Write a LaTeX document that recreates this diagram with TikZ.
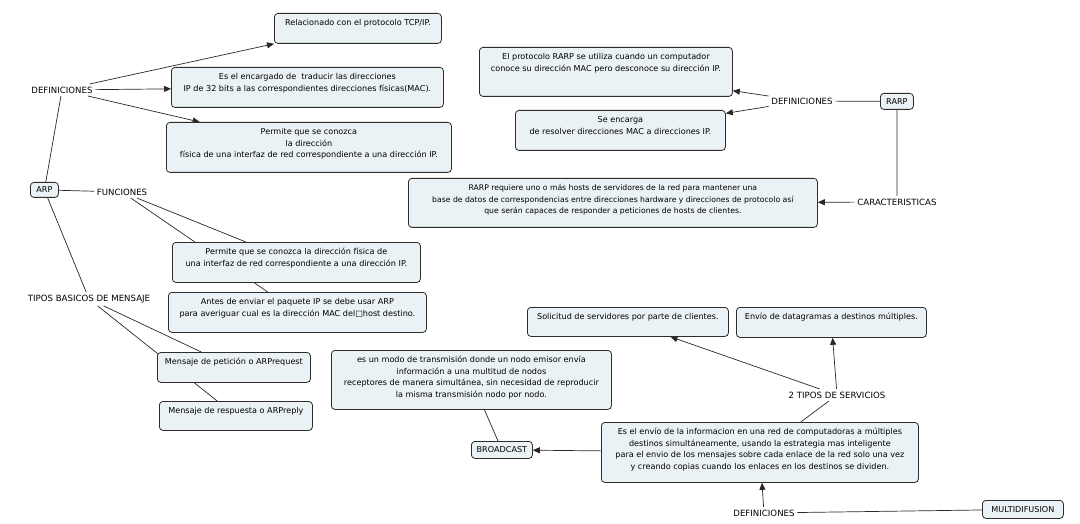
\documentclass[tikz,border=0pt]{standalone}
\usepackage{fontspec}
\setmainfont{DejaVu Sans}
\usetikzlibrary{arrows.meta}
\definecolor{boxfill}{RGB}{234,242,245}
\definecolor{boxline}{RGB}{45,45,45}
\definecolor{conn}{RGB}{40,40,40}
\pgfdeclarelayer{back}
\pgfdeclarelayer{bg}
\pgfsetlayers{back,bg,main}
\newcommand\boxfont{\fontsize{8.1}{11.7}\selectfont}
\newcommand\smallboxfont{\fontsize{7.7}{11.7}\selectfont}
\newcommand\lblfont{\fontsize{8.6}{11.7}\selectfont}
\tikzset{
  cbox/.style={draw=boxline, fill=boxfill, rounded corners=3.5pt, line width=0.8pt, inner sep=0pt, anchor=north west},
  kbox/.style={draw=boxline, fill=boxfill, rounded corners=3.5pt, line width=0.8pt, inner sep=0pt, anchor=north west, align=center, font=\boxfont},
  lbl/.style={inner sep=2.6pt, fill=none, font=\lblfont},
  link/.style={draw=conn, line width=0.7pt},
  arr/.style={link, -{Triangle[length=7pt,width=6pt]}},
}
\newcommand\cmbox[7][\boxfont]{%
  \pgfmathsetmacro\bw{#5-#3}\pgfmathsetmacro\bh{#6-#4}%
  \node[cbox] (#2) at (#3,#4) {\parbox[c][\bh pt][t]{\bw pt}{#1\centering\vspace*{3.8pt}\strut #7\par}};%
}
\newcommand\kmbox[6]{%
  \pgfmathsetmacro\bw{#4-#2}\pgfmathsetmacro\bh{#5-#3}%
  \node[kbox, minimum width=\bw pt, minimum height=\bh pt] (#1) at (#2,#3) {#6};%
}
\begin{document}
\begin{tikzpicture}[x=1pt,y=-1pt]
\useasboundingbox (0,0) rectangle (1080,524);
\begin{pgfonlayer}{back}
\fill[white] (0,0) rectangle (1080,524);
\end{pgfonlayer}

% ARP side
\cmbox{r1}{274}{13}{441}{43}{Relacionado con el protocolo TCP/IP.}
\cmbox{r2}{171}{67}{443}{107}{Es el encargado de\ \ traducir las direcciones\\IP de 32 bits a las correspondientes direcciones físicas(MAC).}
\cmbox{r3}{166}{122}{451}{172}{Permite que se conozca\\la dirección\\física de una interfaz de red correspondiente a una dirección IP.}
\cmbox{f1}{172}{242}{420}{282}{Permite que se conozca la dirección física de\\una interfaz de red correspondiente a una dirección IP.}
\cmbox{f2}{168}{292}{426}{332}{Antes de enviar el paquete IP se debe usar ARP\\para averiguar cual es la dirección MAC del□host destino.}
\cmbox{m1}{157}{352}{310}{382}{Mensaje de petición o ARPrequest}
\cmbox{m2}{159}{401}{312}{430}{Mensaje de respuesta o ARPreply}
\kmbox{arp}{30}{182}{58}{197}{ARP}
\node[lbl] (def1) at (62,90) {DEFINICIONES};
\node[lbl] (func) at (122,192) {FUNCIONES};
\node[lbl] (tipos) at (89,299) {TIPOS BASICOS DE MENSAJE};

% RARP side
\cmbox{rr1}{479}{47}{732}{96}{El protocolo RARP se utiliza cuando un computador\\conoce su dirección MAC pero desconoce su dirección IP.}
\cmbox{rr2}{515}{110}{725}{150}{Se encarga\\de resolver direcciones MAC a direcciones IP.}
\cmbox[\smallboxfont]{rr3}{408}{178}{817}{227}{RARP requiere uno o más hosts de servidores de la red para mantener una\\base de datos de correspondencias entre direcciones hardware y direcciones de protocolo así\\que serán capaces de responder a peticiones de hosts de clientes.}
\kmbox{rarp}{880}{93}{913}{109}{RARP}
\node[lbl] (def2) at (802,101) {DEFINICIONES};
\node[lbl] (caract) at (897,202) {CARACTERISTICAS};

% Multidifusion side
\cmbox{s1}{527}{307}{728}{336}{Solicitud de servidores por parte de clientes.}
\cmbox{s2}{736}{307}{926}{337}{Envío de datagramas a destinos múltiples.}
\cmbox{b1}{331}{350}{611}{409}{es un modo de transmisión donde un nodo emisor envía\\información a una multitud de nodos\\receptores de manera simultánea, sin necesidad de reproducir\\la misma transmisión nodo por nodo.}
\cmbox{mb}{601}{422}{918}{482}{Es el envío de la informacion en una red de computadoras a múltiples\\destinos simultáneamente, usando la estrategia mas inteligente\\para el envio de los mensajes sobre cada enlace de la red solo una vez\\y creando copias cuando los enlaces en los destinos se dividen.}
\kmbox{bc}{471}{441}{532}{458}{BROADCAST}
\kmbox{multi}{982}{500}{1063}{518}{MULTIDIFUSION}
\node[lbl] (tipos2) at (837,395) {2 TIPOS DE SERVICIOS};
\node[lbl] (def3) at (764,513) {DEFINICIONES};

\begin{pgfonlayer}{bg}
  \draw[link] (arp) -- (def1);
  \draw[arr] (def1) -- (r1.south west);
  \draw[arr] (def1) -- (r2);
  \draw[arr] (def1) -- (r3);
  \draw[link] (arp) -- (func);
  \draw[link] (func) -- (f1);
  \draw[link] (func) -- (f2);
  \draw[link] (arp) -- (tipos);
  \draw[link] (tipos) -- (m1);
  \draw[link] (tipos) -- (m2);

  \draw[link] (rarp) -- (def2);
  \draw[arr] (def2) -- (rr1);
  \draw[arr] (def2) -- (rr2);
  \draw[link] (rarp) -- (caract);
  \draw[arr] (caract) -- (rr3);

  \draw[link] (multi) -- (def3);
  \draw[arr] (def3) -- (mb);
  \draw[arr] (mb) -- (bc);
  \draw[link] (bc) -- (b1);
  \draw[link] (mb) -- (tipos2);
  \draw[arr] (tipos2) -- (s1);
  \draw[arr] (tipos2) -- (s2);
\end{pgfonlayer}
\end{tikzpicture}
\end{document}
